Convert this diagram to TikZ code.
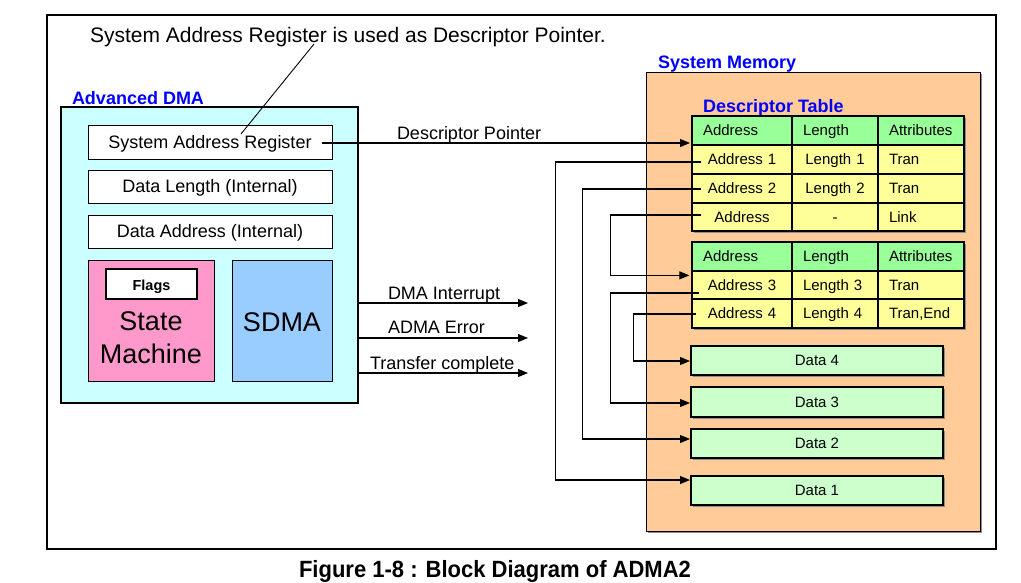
\documentclass[tikz,border=0pt]{standalone}
\usepackage{fontspec}
\usepackage{graphicx}
\setmainfont{Liberation Sans}
\usetikzlibrary{arrows.meta,calc,shadows}
\definecolor{admafill}{HTML}{CCFFFF}
\definecolor{smfill}{HTML}{FF99CC}
\definecolor{sdmafill}{HTML}{99CCFF}
\definecolor{memfill}{HTML}{FFCC99}
\definecolor{hdrfill}{HTML}{99FF99}
\definecolor{rowfill}{HTML}{FFFF99}
\definecolor{datafill}{HTML}{CCFFCC}
\definecolor{lblblue}{HTML}{0000FF}
\newcommand{\fsz}[2]{\fontsize{#1pt}{#2pt}\selectfont}
\tikzset{
  box/.style={draw=black, inner sep=0pt, outer sep=0pt, line width=1pt},
  txt/.style={inner sep=0pt, outer sep=0pt},
  conn/.style={draw=black, line width=1.1pt},
  arr/.style={conn, -{Triangle[length=10pt,width=8pt]}},
  shad/.style={drop shadow={shadow xshift=1.5pt, shadow yshift=-1.5pt, fill=black!45, opacity=1}},
  cell/.style={draw=black, line width=1.3pt, inner xsep=11pt, inner ysep=0pt,
    text height=10.7pt, text depth=0pt, font=\fsz{15}{18}},
  cA/.style={cell, text width=78pt, align=#1},
  cB/.style={cell, text width=64pt, align=#1},
  regbox/.style={box, fill=white, line width=1pt, font=\fsz{18}{22},
    text height=12.9pt, text depth=0pt, minimum width=244pt},
  databox/.style={box, shad, fill=datafill, line width=1.1pt, font=\fsz{15}{18},
    text height=10.7pt, text depth=0pt, minimum width=252pt},
  bluelbl/.style={txt, anchor=base west, text=lblblue, font=\fsz{18}{22}\bfseries}
}
\begin{document}
\begin{tikzpicture}[x=1pt,y=-1pt]
\useasboundingbox (0,0) rectangle (1021,582);
\fill[white] (0,0) rectangle (1021,582);

% outer frame
\node[box, line width=1.3pt, minimum width=949pt, minimum height=534pt] (frame) at (521.5,282) {};

% top note
\node[txt, anchor=base west, font=\fsz{21}{25}] (note) at (90,42) {System Address Register is used as Descriptor Pointer.};

% Advanced DMA
\node[bluelbl] (admalbl) at (72,104) {Advanced DMA};
\node[box, fill=admafill, line width=2pt, minimum width=297pt, minimum height=296pt] (adma) at (209.5,255) {};
\node[regbox, minimum height=34pt] (sar) at (210,142) {System Address Register};
\node[regbox, minimum height=33pt] (dlen) at (210,186.5) {Data Length (Internal)};
\node[regbox, minimum height=33pt] (daddr) at (210,231.5) {Data Address (Internal)};
\node[box, fill=smfill, minimum width=126pt, minimum height=121pt] (sm) at (151,320.5) {};
\node[box, fill=white, line width=1.2pt, minimum width=91pt, minimum height=30pt] (flags) at (151.5,284) {};
\node[txt, anchor=base, font=\fsz{14.5}{17}\bfseries] (flagstxt) at (151.5,290) {Flags};
\node[txt, anchor=base, font=\fsz{27}{32}] (smtxt1) at (151,330) {State};
\node[txt, anchor=base, font=\fsz{27}{32}] (smtxt2) at (151,363) {Machine};
\node[box, fill=sdmafill, minimum width=100pt, minimum height=121pt] (sdma) at (282,320.5) {};
\node[txt, anchor=base, font=\fsz{27}{32}] (sdmatxt) at (282,331) {SDMA};

% leader line
\coordinate (lead1) at (314,44);
\coordinate (lead2) at (241,134);
\draw[line width=0.9pt] (lead1) -- (lead2);

% System memory
\node[bluelbl] (memlbl) at (658,68) {System Memory};
\node[box, shad, fill=memfill, minimum width=334pt, minimum height=459pt] (mem) at (813,301.5) {};
\node[bluelbl] (dtlbl) at (703,112) {Descriptor Table};

% table 1
\node[box, shad, fill=rowfill, minimum width=272pt, minimum height=115pt] (t1bg) at (828,173.5) {};
\node[cA=left, fill=hdrfill, minimum height=29pt] (t1ha) at (742,130.5) {Address};
\node[cB=left, fill=hdrfill, minimum height=29pt] (t1hl) at (835,130.5) {Length};
\node[cB=left, fill=hdrfill, minimum height=29pt] (t1hx) at (921,130.5) {Attributes};
\node[cA=center, fill=rowfill, minimum height=29pt] (t1r1a) at (742,159.5) {Address 1};
\node[cB=center, fill=rowfill, minimum height=29pt] (t1r1l) at (835,159.5) {Length 1};
\node[cB=left, fill=rowfill, minimum height=29pt] (t1r1x) at (921,159.5) {Tran};
\node[cA=center, fill=rowfill, minimum height=29pt] (t1r2a) at (742,188.5) {Address 2};
\node[cB=center, fill=rowfill, minimum height=29pt] (t1r2l) at (835,188.5) {Length 2};
\node[cB=left, fill=rowfill, minimum height=29pt] (t1r2x) at (921,188.5) {Tran};
\node[cA=center, fill=rowfill, minimum height=28pt] (t1r3a) at (742,217) {Address};
\node[cB=center, fill=rowfill, minimum height=28pt] (t1r3l) at (835,217) {-};
\node[cB=left, fill=rowfill, minimum height=28pt] (t1r3x) at (921,217) {Link};

% table 2
\node[box, shad, fill=rowfill, minimum width=272pt, minimum height=86pt] (t2bg) at (828,285) {};
\node[cA=left, fill=hdrfill, minimum height=29pt] (t2ha) at (742,256.5) {Address};
\node[cB=left, fill=hdrfill, minimum height=29pt] (t2hl) at (835,256.5) {Length};
\node[cB=left, fill=hdrfill, minimum height=29pt] (t2hx) at (921,256.5) {Attributes};
\node[cA=center, fill=rowfill, minimum height=28pt] (t2r1a) at (742,285) {Address 3};
\node[cB=left, fill=rowfill, minimum height=28pt] (t2r1l) at (835,285) {Length 3};
\node[cB=left, fill=rowfill, minimum height=28pt] (t2r1x) at (921,285) {Tran};
\node[cA=center, fill=rowfill, minimum height=29pt] (t2r2a) at (742,313.5) {Address 4};
\node[cB=left, fill=rowfill, minimum height=29pt] (t2r2l) at (835,313.5) {Length 4};
\node[cB=left, fill=rowfill, minimum height=29pt] (t2r2x) at (921,313.5) {Tran,End};

% data blocks
\node[databox, minimum height=29pt] (d4) at (817,360.5) {Data 4};
\node[databox, minimum height=30pt] (d3) at (817,402) {Data 3};
\node[databox, minimum height=29pt] (d2) at (817,443.5) {Data 2};
\node[databox, minimum height=29pt] (d1) at (817,490.5) {Data 1};

% descriptor pointer
\coordinate (dpstart) at ($(sar.east)+(-10,1)$);
\coordinate (dpend) at (690,143);
\draw[arr] (dpstart) -- (dpend);
\node[txt, anchor=base west, font=\fsz{18}{22}] (dplbl) at (397,139) {Descriptor Pointer};

% output signals
\coordinate (o1e) at (528,303);
\coordinate (o2e) at (528,338);
\coordinate (o3e) at (528,373);
\draw[arr] (adma.east |- o1e) -- (o1e);
\draw[arr] (adma.east |- o2e) -- (o2e);
\draw[arr] (adma.east |- o3e) -- (o3e);
\node[txt, anchor=base west, font=\fsz{18}{22}] (o1lbl) at (388,299) {DMA Interrupt};
\node[txt, anchor=base west, font=\fsz{18}{22}] (o2lbl) at (388,333) {ADMA Error};
\node[txt, anchor=base west, font=\fsz{18}{22}] (o3lbl) at (370,369) {Transfer complete};

% descriptor links
\coordinate (a1s) at ($(t1r1a.west)+(10,2.5)$);
\coordinate (a2s) at ($(t1r2a.west)+(10,0.5)$);
\coordinate (lks) at ($(t1r3a.west)+(10,-2)$);
\coordinate (a3s) at ($(t2r1a.west)+(8,8)$);
\coordinate (a4s) at ($(t2r2a.west)+(5,0.5)$);
\coordinate (d1in) at ($(d1.north west)+(-1,4)$);
\coordinate (d2in) at ($(d2.north west)+(-1,10)$);
\coordinate (d3in) at ($(d3.west)+(-1,1)$);
\coordinate (d4in) at ($(d4.west)+(-1,0.5)$);
\coordinate (t2in) at ($(t2r1a.north west)+(-2,5)$);
\draw[arr] (a1s) -- ++(-146,0) |- (d1in);
\draw[arr] (a2s) -- ++(-119,0) |- (d2in);
\draw[arr] (lks) -- ++(-91,0) |- (t2in);
\draw[arr] (a3s) -- ++(-89,0) |- (d3in);
\draw[arr] (a4s) -- ++(-63,0) |- (d4in);

% caption
\node[txt, anchor=base, font=\fsz{23.5}{28}\bfseries] (caption) at (495,577) {\scalebox{0.936}[1]{Figure 1-8 : Block Diagram of ADMA2}};
\end{tikzpicture}
\end{document}
